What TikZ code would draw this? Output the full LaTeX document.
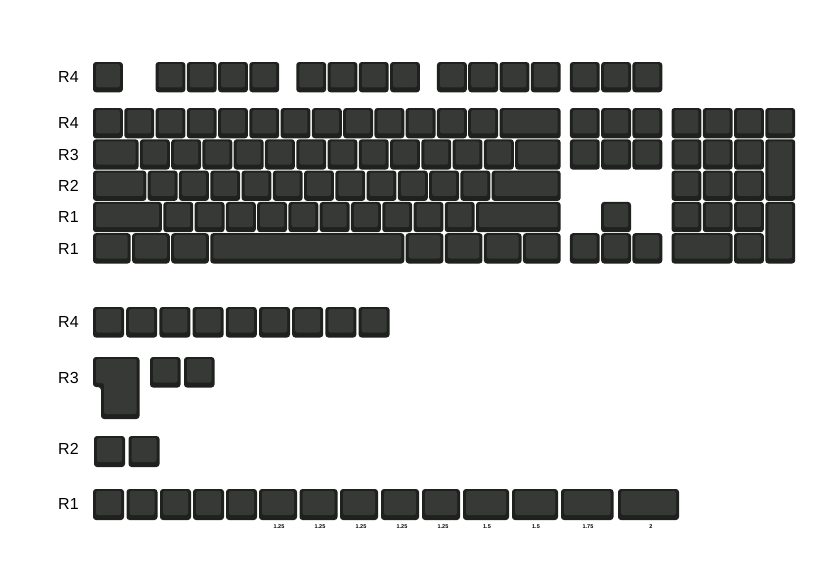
\documentclass[tikz,border=0pt]{standalone}
\usepackage{fontspec}
\setmainfont{Liberation Sans}
\definecolor{capout}{HTML}{1F211E}
\definecolor{captop}{HTML}{363935}
\tikzset{
  kout/.style={fill=capout,rounded corners=3pt},
  kin/.style={fill=captop,rounded corners=2pt},
  lab/.style={anchor=west,font=\fontsize{16}{18}\selectfont,text=black,inner sep=0pt},
  sz/.style={font=\fontsize{5.5}{6}\selectfont\bfseries,text=black,inner sep=0pt}
}
\newcommand\kc[4]{%
  \pgfmathsetmacro\kx{#1}\pgfmathsetmacro\ky{#2}%
  \pgfmathsetmacro\kw{#3}\pgfmathsetmacro\kh{#4}%
  \fill[kout] (\kx,\ky) rectangle ({\kx+\kw},{\ky+\kh});
  \fill[kin] ({\kx+3},{\ky+2}) rectangle ({\kx+\kw-3},{\ky+\kh-5});
}
\newcommand\mk[3]{\kc{93+(#1)*31.27}{#2}{(#3)*31.27-1.4}{30.3}}
\newcommand\mkt[3]{\kc{93+(#1)*31.27}{#2}{(#3)*31.27-1.4}{61.6}}
\begin{document}
\begin{tikzpicture}[x=1pt,y=-1pt]
\useasboundingbox[fill=white] (0,0) rectangle (834,586);
% ---------- labels ----------
\node[lab] (l1) at (58,77) {R4};
\node[lab] (l2) at (58,123) {R4};
\node[lab] (l3) at (58,154.5) {R3};
\node[lab] (l4) at (58,185.5) {R2};
\node[lab] (l5) at (58,217) {R1};
\node[lab] (l6) at (58,248.5) {R1};
\node[lab] (l7) at (58,322) {R4};
\node[lab] (l8) at (58,377.5) {R3};
\node[lab] (l9) at (58,449) {R2};
\node[lab] (l10) at (58,504) {R1};
% ---------- function row ----------
\foreach \u in {0,2,3,4,5,6.5,7.5,8.5,9.5,11,12,13,14,15.25,16.25,17.25}{\mk{\u}{62}{1}}
% ---------- main block ----------
\def\ra{108}\def\rb{139.3}\def\rc{170.6}\def\rd{201.9}\def\re{233.2}
\foreach \i in {0,...,12}{\mk{\i}{\ra}{1}}
\mk{13}{\ra}{2}
\mk{0}{\rb}{1.5}
\foreach \i in {0,...,11}{\mk{1.5+\i}{\rb}{1}}
\mk{13.5}{\rb}{1.5}
\mk{0}{\rc}{1.75}
\foreach \i in {0,...,10}{\mk{1.75+\i}{\rc}{1}}
\mk{12.75}{\rc}{2.25}
\mk{0}{\rd}{2.25}
\foreach \i in {0,...,9}{\mk{2.25+\i}{\rd}{1}}
\mk{12.25}{\rd}{2.75}
\foreach \u in {0,1.25,2.5,10,11.25,12.5,13.75}{\mk{\u}{\re}{1.25}}
\mk{3.75}{\re}{6.25}
% nav cluster
\foreach \u in {15.25,16.25,17.25}{\mk{\u}{\ra}{1}\mk{\u}{\rb}{1}\mk{\u}{\re}{1}}
\mk{16.25}{\rd}{1}
% numpad
\foreach \u in {18.5,19.5,20.5,21.5}{\mk{\u}{\ra}{1}}
\foreach \u in {18.5,19.5,20.5}{\mk{\u}{\rb}{1}\mk{\u}{\rc}{1}\mk{\u}{\rd}{1}}
\mkt{21.5}{\rb}{1}
\mkt{21.5}{\rd}{1}
\mk{18.5}{\re}{2}
\mk{20.5}{\re}{1}
% ---------- lower: R4 ----------
\foreach \i in {0,...,8}{\kc{93+\i*33.2}{307}{31}{30.5}}
% ---------- lower: R3 (ISO enter + two) ----------
\fill[kout] (93,357) -- (139.5,357) -- (139.5,419) -- (101,419) -- (101,387) -- (93,387) -- cycle;
\fill[kin] (96,359) -- (136.5,359) -- (136.5,414) -- (104,414) -- (104,383) -- (96,383) -- cycle;
\kc{150}{357}{30.5}{30.5}
\kc{184}{357}{30.5}{30.5}
% ---------- lower: R2 ----------
\kc{94}{436}{31}{31}
\kc{128.5}{436}{31}{31}
% ---------- lower: R1 ----------
\foreach \x in {93,126.5,160,193,226}{\kc{\x}{489}{31}{31}}
\foreach \x in {259,299.5,340,381,422}{\kc{\x}{489}{38}{31}}
\kc{463}{489}{46}{31}
\kc{512}{489}{46}{31}
\kc{561}{489}{52.5}{31}
\kc{618}{489}{61}{31}
% size labels
\node[sz] (s1) at (279,527) {1.25};
\node[sz] (s2) at (320,527) {1.25};
\node[sz] (s3) at (361,527) {1.25};
\node[sz] (s4) at (402,527) {1.25};
\node[sz] (s5) at (443,527) {1.25};
\node[sz] (s6) at (487,527) {1.5};
\node[sz] (s7) at (536,527) {1.5};
\node[sz] (s8) at (588,527) {1.75};
\node[sz] (s9) at (651,527) {2};
\end{tikzpicture}
\end{document}
